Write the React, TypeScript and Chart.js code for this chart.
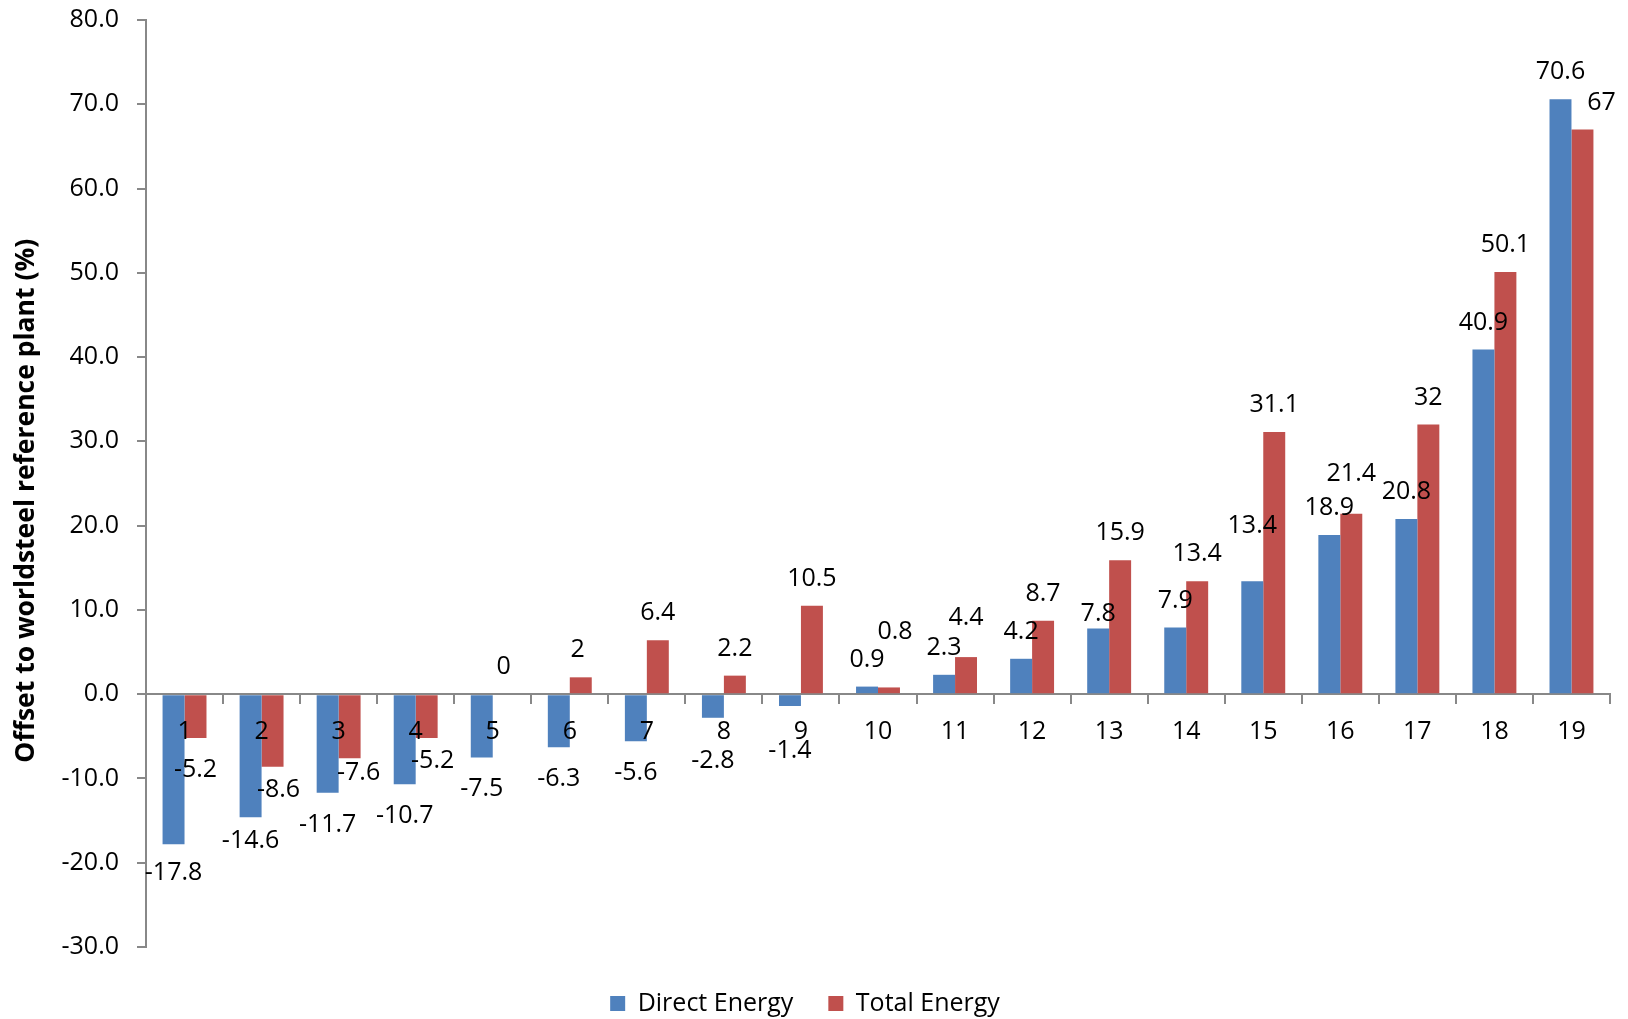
import React, { useEffect, useRef } from 'react';
import { Chart, registerables } from 'chart.js';

Chart.register(...registerables);

const categories = ['1', '2', '3', '4', '5', '6', '7', '8', '9', '10', '11', '12', '13', '14', '15', '16', '17', '18', '19'];
const directEnergy = [-17.8, -14.6, -11.7, -10.7, -7.5, -6.3, -5.6, -2.8, -1.4, 0.9, 2.3, 4.2, 7.8, 7.9, 13.4, 18.9, 20.8, 40.9, 70.6];
const totalEnergy = [-5.2, -8.6, -7.6, -5.2, 0, 2, 6.4, 2.2, 10.5, 0.8, 4.4, 8.7, 15.9, 13.4, 31.1, 21.4, 32, 50.1, 67];
const seriesNames = ['Direct Energy', 'Total Energy'];
const yMin = -30;
const yMax = 80;
const yStep = 10;
const yTitle = 'Offset to worldsteel reference plant (%)';

// label nudges (pixels) to mimic manually placed data labels: [dx, dy]
const labelNudges: Record<string, [number, number]> = {
  '0-0': [0, -3],
  '0-1': [0, -8],
  '0-7': [0, 11],
  '0-8': [0, 13],
  '0-12': [0, 13],
  '0-14': [0, -28],
  '1-1': [6, -9],
  '1-2': [9, -17],
  '1-3': [6, -9],
  '1-5': [-3, 0],
  '1-9': [6, -28],
  '1-10': [0, -12],
  '1-15': [0, -13],
  '1-18': [19, 0],
};

const FONT = "'Open Sans', 'DejaVu Sans', sans-serif";
const AXIS_GREY = '#888888';

const valueLabels = {
  id: 'valueLabels',
  afterDatasetsDraw(chart: any) {
    const ctx = chart.ctx;
    ctx.save();
    ctx.font = `25px ${FONT}`;
    ctx.fillStyle = '#000000';
    ctx.textAlign = 'center';
    ctx.textBaseline = 'alphabetic';
    chart.data.datasets.forEach((ds: any, di: number) => {
      const meta = chart.getDatasetMeta(di);
      meta.data.forEach((el: any, i: number) => {
        const v = ds.data[i];
        const p = el.getProps(['x', 'y'], true);
        const [dx, dy] = labelNudges[`${di}-${i}`] || [0, 0];
        const y = v >= 0 ? p.y - 20 : p.y + 39;
        ctx.fillText(String(v), p.x + dx, y + dy);
      });
    });
    ctx.restore();
  },
};

export default function App() {
  const ref = useRef<HTMLCanvasElement | null>(null);

  useEffect(() => {
    if (!ref.current) return;
    Chart.defaults.font.family = FONT;
    Chart.defaults.color = '#000000';
    const chart = new Chart(ref.current, {
      type: 'bar',
      data: {
        labels: categories,
        datasets: [
          {
            label: seriesNames[0],
            data: directEnergy,
            backgroundColor: '#4F81BD',
            xAxisID: 'x',
            yAxisID: 'y',
            categoryPercentage: 0.57,
            barPercentage: 1.0,
          },
          {
            label: seriesNames[1],
            data: totalEnergy,
            backgroundColor: '#C0504D',
            xAxisID: 'x',
            yAxisID: 'y',
            categoryPercentage: 0.57,
            barPercentage: 1.0,
          },
        ],
      },
      options: {
        responsive: false,
        animation: false,
        devicePixelRatio: 1,
        layout: { padding: { left: 0, right: 18, top: 20, bottom: 0 } },
        plugins: {
          legend: {
            position: 'bottom',
            labels: {
              boxWidth: 15,
              boxHeight: 15,
              padding: 35,
              font: { size: 25, family: FONT },
              color: '#000000',
            },
          },
          tooltip: { enabled: false },
        },
        scales: {
          x: {
            type: 'category',
            position: { y: 0 } as any,
            afterFit: (s: any) => {
              s.paddingLeft = 0;
              s.paddingRight = 0;
            },
            grid: {
              offset: true,
              drawOnChartArea: false,
              drawTicks: true,
              tickLength: 9,
              color: AXIS_GREY,
              lineWidth: 2,
            },
            border: { display: true, color: AXIS_GREY, width: 2 },
            ticks: {
              z: 1,
              font: { size: 25, family: FONT },
              color: '#000000',
              padding: 14,
              maxRotation: 0,
              autoSkip: false,
            },
          },
          x2: {
            type: 'category',
            position: 'bottom',
            display: true,
            grid: { display: false },
            border: { display: false },
            ticks: { display: false },
            afterFit: (s: any) => {
              s.height = 9;
            },
          },
          y: {
            type: 'linear',
            position: 'left',
            min: yMin,
            max: yMax,
            afterFit: (s: any) => {
              s.width = 146;
              s.paddingTop = 0;
              s.paddingBottom = 0;
            },
            grid: {
              drawOnChartArea: false,
              drawTicks: true,
              tickLength: 9,
              color: AXIS_GREY,
              lineWidth: 2,
            },
            border: { display: true, color: AXIS_GREY, width: 2 },
            ticks: {
              stepSize: yStep,
              font: { size: 25, family: FONT },
              color: '#000000',
              padding: 18,
              callback: (v: any) => Number(v).toFixed(1),
            },
            title: {
              display: true,
              text: yTitle + '     ',
              font: { size: 26.5, weight: 'bold', family: FONT },
              color: '#000000',
              padding: { top: 11, bottom: 0 },
            },
          },
        },
      },
      plugins: [valueLabels],
    } as any);
    return () => chart.destroy();
  }, []);

  return (
    <div style={{ position: 'fixed', left: 0, top: 0, width: 1628, height: 1019, overflow: 'hidden', background: '#ffffff' }}>
      <canvas ref={ref} width={1628} height={1026} style={{ display: 'block' }} />
    </div>
  );
}
